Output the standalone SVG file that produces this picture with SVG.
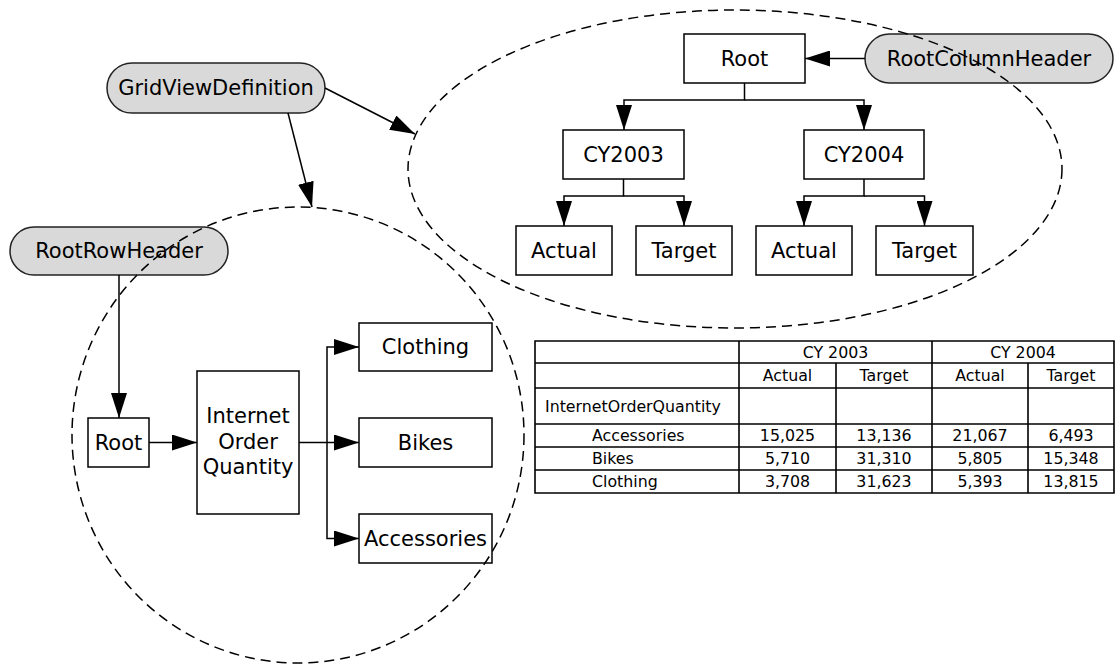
<svg xmlns="http://www.w3.org/2000/svg" width="1116" height="665" viewBox="0 0 1116 665">
<style>
text{font-family:"DejaVu Sans",Verdana,sans-serif;fill:#000}
.n{font-size:21px;text-anchor:middle;dominant-baseline:central}
.t{font-size:15.8px;dominant-baseline:central}
.c{text-anchor:middle}
.box{fill:#fff;stroke:#000;stroke-width:1.5}
.pill{fill:#d9d9d9;stroke:#222;stroke-width:1.5}
.ln{fill:none;stroke:#000;stroke-width:1.5}
.dash{fill:none;stroke:#000;stroke-width:1.5;stroke-dasharray:10 6}
.tb{stroke:#000;stroke-width:1.6;fill:none}
</style>
<defs>
<marker id="ah" markerUnits="userSpaceOnUse" markerWidth="25" markerHeight="16" refX="25" refY="8" orient="auto">
<path d="M0,0 L25,8 L0,16 z" fill="#000"/>
</marker>
</defs>
<rect width="1116" height="665" fill="#fff"/>

<g id="GridViewDefinition"><rect class="pill" x="107" y="63" width="218" height="50" rx="25"/><text class="n" x="216" y="88">GridViewDefinition</text></g>
<g id="RootRowHeader"><rect class="pill" x="10" y="227" width="218" height="48" rx="24"/><text class="n" x="119" y="251">RootRowHeader</text></g>
<g id="RootColumnHeader"><rect class="pill" x="865" y="34" width="248" height="49" rx="24.5"/><text class="n" x="989" y="58.5">RootColumnHeader</text></g>

<g id="ColRoot"><rect class="box" x="684" y="34" width="121" height="49"/><text class="n" x="744.5" y="58.5">Root</text></g>
<g id="CY2003"><rect class="box" x="563" y="130" width="121" height="49"/><text class="n" x="623.5" y="154.5">CY2003</text></g>
<g id="CY2004"><rect class="box" x="804" y="130" width="120" height="49"/><text class="n" x="864" y="154.5">CY2004</text></g>
<g id="Actual2003"><rect class="box" x="516" y="226" width="96" height="49"/><text class="n" x="564" y="250.5">Actual</text></g>
<g id="Target2003"><rect class="box" x="636" y="226" width="96" height="49"/><text class="n" x="684" y="250.5">Target</text></g>
<g id="Actual2004"><rect class="box" x="756" y="226" width="96" height="49"/><text class="n" x="804" y="250.5">Actual</text></g>
<g id="Target2004"><rect class="box" x="876" y="226" width="97" height="49"/><text class="n" x="924.5" y="250.5">Target</text></g>

<g id="RowRoot"><rect class="box" x="88" y="418" width="61" height="49"/><text class="n" x="118.5" y="442.5">Root</text></g>
<g id="InternetOrderQuantity"><rect class="box" x="197" y="371" width="102" height="143"/><text class="n" x="248" y="416">Internet</text><text class="n" x="248" y="442">Order</text><text class="n" x="248" y="467">Quantity</text></g>
<g id="Clothing"><rect class="box" x="359" y="323" width="133" height="48"/><text class="n" x="425.5" y="347">Clothing</text></g>
<g id="Bikes"><rect class="box" x="359" y="418" width="133" height="49"/><text class="n" x="425.5" y="442.5">Bikes</text></g>
<g id="Accessories"><rect class="box" x="359" y="514" width="133" height="49"/><text class="n" x="425.5" y="538.5">Accessories</text></g>

<g id="connectors">
<path class="ln" d="M325,88 L415,134" marker-end="url(#ah)"/>
<path class="ln" d="M288,113 L312,207" marker-end="url(#ah)"/>
<path class="ln" d="M865,58.5 H805" marker-end="url(#ah)"/>
<path class="ln" d="M744.5,83 V100 H624 V130" marker-end="url(#ah)"/>
<path class="ln" d="M744.5,100 H864 V130" marker-end="url(#ah)"/>
<path class="ln" d="M623.5,179 V196 H564 V226" marker-end="url(#ah)"/>
<path class="ln" d="M623.5,196 H684 V226" marker-end="url(#ah)"/>
<path class="ln" d="M864,179 V196 H804 V226" marker-end="url(#ah)"/>
<path class="ln" d="M864,196 H924.5 V226" marker-end="url(#ah)"/>
<path class="ln" d="M119,275 V418" marker-end="url(#ah)"/>
<path class="ln" d="M149,442.5 H197" marker-end="url(#ah)"/>
<path class="ln" d="M299,442.5 H359" marker-end="url(#ah)"/>
<path class="ln" d="M327,442.5 V347 H359" marker-end="url(#ah)"/>
<path class="ln" d="M327,442.5 V538.5 H359" marker-end="url(#ah)"/>
</g>

<g id="groups">
<ellipse class="dash" cx="735" cy="169" rx="327" ry="159"/>
<ellipse class="dash" cx="298" cy="435" rx="226" ry="228"/>
</g>

<g id="table">
<rect x="535" y="341" width="579" height="152" fill="#fff"/>
<path class="tb" d="M535,341 H1114 V493 H535 Z M535,363 H1114 M535,388 H1114 M535,424 H1114 M535,447 H1114 M535,470 H1114 M739,341 V493 M932,341 V493 M836,363 V493 M1028,363 V493"/>
<text class="t c" x="835.5" y="352">CY 2003</text>
<text class="t c" x="1023" y="352">CY 2004</text>
<text class="t c" x="787.5" y="375.5">Actual</text>
<text class="t c" x="884" y="375.5">Target</text>
<text class="t c" x="980" y="375.5">Actual</text>
<text class="t c" x="1071" y="375.5">Target</text>
<text class="t" x="545" y="406">InternetOrderQuantity</text>
<text class="t" x="592" y="435.5">Accessories</text>
<text class="t" x="592" y="458.5">Bikes</text>
<text class="t" x="592" y="481.5">Clothing</text>
<text class="t c" x="787.5" y="435.5">15,025</text>
<text class="t c" x="884" y="435.5">13,136</text>
<text class="t c" x="980" y="435.5">21,067</text>
<text class="t c" x="1071" y="435.5">6,493</text>
<text class="t c" x="787.5" y="458.5">5,710</text>
<text class="t c" x="884" y="458.5">31,310</text>
<text class="t c" x="980" y="458.5">5,805</text>
<text class="t c" x="1071" y="458.5">15,348</text>
<text class="t c" x="787.5" y="481.5">3,708</text>
<text class="t c" x="884" y="481.5">31,623</text>
<text class="t c" x="980" y="481.5">5,393</text>
<text class="t c" x="1071" y="481.5">13,815</text>
</g>
</svg>
